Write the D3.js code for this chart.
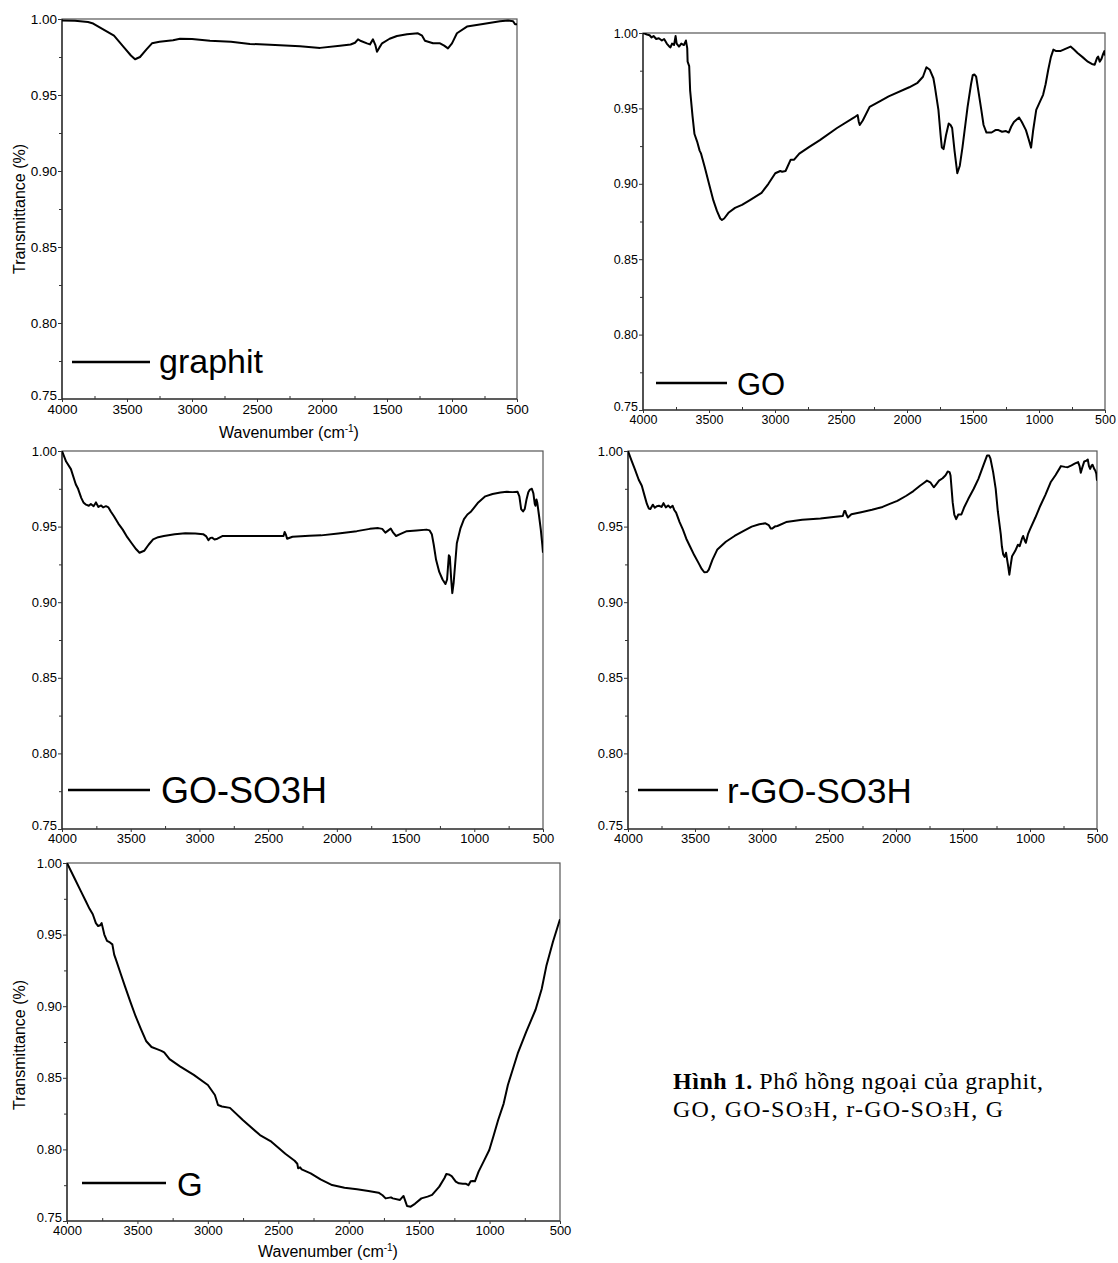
<!DOCTYPE html>
<html><head><meta charset="utf-8">
<script src="https://cdn.jsdelivr.net/npm/d3@7"></script>
<style>
body{margin:0;background:#fff}
svg{display:block}
text{font-family:Arial,"Liberation Sans",sans-serif;fill:#000}
</style>
</head><body>
<svg id="c" width="1118" height="1263"></svg>
<script>
// ---------- DATA ----------
const xTicks = [4000,3500,3000,2500,2000,1500,1000,500];
const xMinor = [3750,3250,2750,2250,1750,1250,750];
const yTicks = [0.75,0.80,0.85,0.90,0.95,1.00];
const yMinor = [0.775,0.825,0.875,0.925,0.975];
const seriesNames = ["graphit","GO","GO-SO3H","r-GO-SO3H","G"];

const graphit = [[4000,0.999],[3900,0.9988],[3800,0.998],[3760,0.997],[3700,0.994],[3600,0.989],[3520,0.981],[3470,0.976],[3438,0.9735],[3400,0.975],[3350,0.980],[3308,0.984],[3250,0.985],[3146,0.986],[3092,0.987],[3000,0.9868],[2862,0.9857],[2700,0.985],[2554,0.9836],[2400,0.983],[2169,0.982],[2015,0.981],[1862,0.9824],[1780,0.9832],[1746,0.9844],[1723,0.9866],[1700,0.9855],[1654,0.984],[1631,0.9833],[1608,0.9866],[1590,0.983],[1577,0.9785],[1560,0.981],[1538,0.984],[1480,0.987],[1423,0.9888],[1346,0.990],[1262,0.9906],[1230,0.989],[1208,0.9857],[1146,0.984],[1092,0.984],[1060,0.9825],[1031,0.9807],[1000,0.984],[962,0.9906],[885,0.995],[762,0.9967],[631,0.9985],[569,0.999],[530,0.9985],[515,0.9965],[500,0.9966]];

const go = [[4000,1.000],[3970,0.999],[3950,0.9985],[3935,0.997],[3920,0.998],[3900,0.996],[3880,0.9965],[3857,0.995],[3840,0.996],[3820,0.993],[3800,0.991],[3792,0.9905],[3780,0.993],[3765,0.992],[3753,0.998],[3745,0.993],[3727,0.991],[3710,0.993],[3690,0.992],[3675,0.995],[3665,0.990],[3662,0.981],[3650,0.978],[3643,0.962],[3625,0.945],[3610,0.933],[3590,0.928],[3571,0.922],[3560,0.920],[3532,0.911],[3500,0.900],[3467,0.889],[3440,0.882],[3415,0.877],[3402,0.876],[3385,0.877],[3350,0.881],[3303,0.884],[3250,0.886],[3193,0.889],[3102,0.894],[3050,0.900],[2998,0.907],[2960,0.9085],[2946,0.908],[2920,0.9085],[2881,0.916],[2855,0.916],[2816,0.920],[2740,0.9245],[2660,0.929],[2530,0.937],[2400,0.944],[2374,0.9456],[2365,0.941],[2358,0.939],[2335,0.942],[2283,0.951],[2200,0.955],[2139,0.958],[1983,0.964],[1920,0.967],[1879,0.971],[1853,0.9773],[1827,0.9756],[1800,0.970],[1788,0.964],[1762,0.949],[1745,0.932],[1736,0.924],[1723,0.923],[1705,0.932],[1684,0.940],[1670,0.939],[1658,0.937],[1640,0.922],[1619,0.907],[1600,0.912],[1580,0.924],[1541,0.951],[1515,0.966],[1502,0.972],[1490,0.9725],[1476,0.971],[1460,0.962],[1437,0.949],[1420,0.939],[1398,0.934],[1359,0.934],[1330,0.9356],[1307,0.9356],[1280,0.9345],[1250,0.935],[1229,0.934],[1210,0.938],[1190,0.941],[1151,0.944],[1130,0.941],[1099,0.9356],[1080,0.930],[1060,0.924],[1045,0.935],[1021,0.949],[990,0.955],[969,0.959],[950,0.966],[930,0.9756],[910,0.984],[891,0.989],[870,0.988],[839,0.988],[800,0.9895],[761,0.991],[735,0.989],[708,0.9867],[670,0.984],[630,0.981],[600,0.9795],[578,0.979],[560,0.9835],[552,0.9844],[540,0.981],[526,0.983],[515,0.986],[505,0.988],[500,0.985]];

const goSO3H = [[4000,1.0],[3970,0.993],[3935,0.988],[3900,0.978],[3883,0.975],[3860,0.969],[3844,0.966],[3825,0.9645],[3805,0.9638],[3790,0.965],[3770,0.9635],[3753,0.966],[3735,0.963],[3715,0.964],[3701,0.9627],[3680,0.9635],[3662,0.9627],[3645,0.960],[3623,0.957],[3590,0.952],[3558,0.948],[3525,0.943],[3493,0.939],[3460,0.935],[3436,0.9327],[3402,0.934],[3370,0.938],[3337,0.9416],[3300,0.943],[3259,0.9438],[3180,0.945],[3103,0.9456],[3030,0.9455],[2973,0.945],[2950,0.9435],[2934,0.941],[2920,0.9425],[2908,0.9427],[2890,0.9415],[2869,0.942],[2830,0.9438],[2635,0.9438],[2450,0.9438],[2388,0.9438],[2380,0.9464],[2370,0.9445],[2362,0.942],[2323,0.9433],[2200,0.944],[2115,0.9442],[1990,0.9455],[1855,0.947],[1760,0.9485],[1699,0.949],[1670,0.9485],[1647,0.946],[1625,0.9475],[1608,0.9487],[1590,0.946],[1569,0.9438],[1540,0.945],[1491,0.947],[1420,0.9475],[1348,0.948],[1325,0.9475],[1309,0.945],[1295,0.938],[1278,0.928],[1255,0.920],[1231,0.915],[1210,0.912],[1198,0.915],[1185,0.931],[1178,0.930],[1168,0.915],[1160,0.906],[1150,0.913],[1127,0.939],[1100,0.949],[1075,0.9549],[1050,0.958],[1023,0.960],[971,0.966],[920,0.970],[867,0.9716],[810,0.9725],[763,0.973],[720,0.9728],[685,0.973],[672,0.970],[659,0.9616],[645,0.960],[633,0.9616],[620,0.968],[607,0.9727],[595,0.9745],[581,0.975],[570,0.972],[560,0.965],[555,0.9638],[548,0.968],[542,0.966],[530,0.958],[516,0.948],[505,0.938],[500,0.9327]];

const rGoSO3H = [[4000,1.0],[3975,0.994],[3949,0.988],[3920,0.981],[3897,0.977],[3875,0.970],[3859,0.965],[3845,0.962],[3833,0.9616],[3815,0.9645],[3800,0.9625],[3785,0.9635],[3769,0.9638],[3750,0.963],[3735,0.9655],[3718,0.9627],[3700,0.964],[3685,0.9625],[3667,0.9638],[3655,0.961],[3641,0.9593],[3615,0.953],[3590,0.948],[3565,0.942],[3538,0.937],[3505,0.931],[3474,0.926],[3450,0.922],[3431,0.9198],[3410,0.920],[3397,0.9216],[3370,0.928],[3333,0.9349],[3270,0.940],[3205,0.9438],[3140,0.947],[3077,0.95],[3020,0.9515],[2974,0.9522],[2950,0.951],[2935,0.9487],[2923,0.9487],[2905,0.950],[2885,0.9504],[2820,0.953],[2700,0.9545],[2564,0.9553],[2450,0.9565],[2397,0.957],[2385,0.9604],[2379,0.9604],[2370,0.958],[2359,0.956],[2333,0.9582],[2260,0.9595],[2179,0.9611],[2100,0.963],[2051,0.9649],[1990,0.967],[1923,0.9704],[1870,0.9735],[1821,0.977],[1790,0.979],[1769,0.9804],[1744,0.9793],[1730,0.9775],[1718,0.976],[1700,0.978],[1679,0.9804],[1652,0.982],[1630,0.984],[1614,0.9864],[1600,0.986],[1593,0.9838],[1585,0.975],[1577,0.966],[1565,0.958],[1551,0.9549],[1535,0.958],[1512,0.958],[1490,0.963],[1461,0.9682],[1420,0.975],[1385,0.9816],[1350,0.990],[1320,0.9971],[1305,0.997],[1295,0.9949],[1275,0.986],[1256,0.9749],[1240,0.960],[1218,0.9449],[1210,0.937],[1200,0.9316],[1190,0.930],[1179,0.9327],[1165,0.925],[1154,0.9182],[1145,0.924],[1134,0.9304],[1110,0.934],[1090,0.938],[1077,0.9371],[1060,0.942],[1051,0.9438],[1040,0.941],[1031,0.9393],[1015,0.945],[1000,0.9482],[960,0.956],[923,0.9638],[885,0.971],[846,0.9793],[810,0.984],[769,0.99],[740,0.9895],[718,0.9893],[690,0.9905],[667,0.9916],[641,0.9927],[630,0.990],[621,0.9856],[610,0.989],[595,0.9931],[580,0.9935],[569,0.9944],[560,0.990],[551,0.9882],[540,0.9905],[533,0.9909],[520,0.988],[513,0.9871],[505,0.985],[500,0.9804]];

const gSeries = [[4000,1.0],[3944,0.9888],[3900,0.980],[3868,0.9736],[3840,0.968],[3817,0.9642],[3795,0.958],[3779,0.956],[3765,0.9565],[3754,0.958],[3735,0.950],[3716,0.9456],[3695,0.9445],[3678,0.9432],[3665,0.936],[3653,0.9327],[3620,0.923],[3589,0.914],[3550,0.903],[3513,0.893],[3475,0.884],[3437,0.8755],[3400,0.8715],[3361,0.870],[3330,0.8688],[3310,0.8678],[3272,0.863],[3198,0.858],[3100,0.852],[3000,0.845],[2950,0.838],[2928,0.831],[2900,0.830],[2843,0.829],[2752,0.8205],[2630,0.810],[2549,0.8054],[2450,0.797],[2384,0.7921],[2365,0.790],[2359,0.7868],[2345,0.7875],[2334,0.7861],[2270,0.7833],[2200,0.779],[2118,0.7751],[2030,0.7732],[1941,0.7721],[1860,0.771],[1788,0.7698],[1760,0.768],[1738,0.7658],[1700,0.7665],[1687,0.7658],[1636,0.7647],[1611,0.7675],[1595,0.763],[1586,0.7605],[1560,0.760],[1530,0.762],[1484,0.7658],[1440,0.767],[1408,0.7682],[1357,0.7740],[1320,0.780],[1307,0.7828],[1290,0.7825],[1269,0.7814],[1240,0.7775],[1218,0.7763],[1190,0.776],[1167,0.776],[1150,0.775],[1134,0.7777],[1118,0.778],[1104,0.7777],[1078,0.7845],[1040,0.792],[1002,0.7996],[970,0.810],[939,0.8205],[900,0.832],[870,0.845],[835,0.856],[800,0.867],[740,0.882],[673,0.8977],[630,0.912],[597,0.928],[550,0.945],[500,0.9607]];

const allSeries = [graphit, go, goSO3H, rGoSO3H, gSeries];

// ---------- LAYOUT ----------
const panels = [
  {x0:62, x1:517, y0:19, y1:399, fs:13.5, leg:{lx0:72, lx1:150, ly:362, tx:159, ty:373, fs:34}, yTitle:[19,209], xTitle:[289,438]},
  {x0:643, x1:1105, y0:33, y1:410, fs:12.5, leg:{lx0:656, lx1:727, ly:383, tx:737, ty:395, fs:31}},
  {x0:62, x1:543, y0:451, y1:829, fs:13, leg:{lx0:68, lx1:150, ly:790, tx:161, ty:803, fs:36}},
  {x0:628, x1:1097, y0:451, y1:829, fs:13, leg:{lx0:638, lx1:718, ly:790, tx:727, ty:803, fs:35}},
  {x0:67, x1:560, y0:863, y1:1221, fs:13, leg:{lx0:82, lx1:166, ly:1183, tx:177, ty:1196, fs:33}, yTitle:[19,1045], xTitle:[328,1257]}
];

const svg = d3.select("#c");

panels.forEach((p, i) => {
  const data = allSeries[i];
  const x = d3.scaleLinear().domain([4000,500]).range([p.x0,p.x1]);
  const y = d3.scaleLinear().domain([0.75,1.0]).range([p.y1,p.y0]);
  const g = svg.append("g");

  const cid = "clip" + i;
  g.append("clipPath").attr("id", cid).append("rect")
    .attr("x", p.x0).attr("y", p.y0).attr("width", p.x1-p.x0).attr("height", p.y1-p.y0);

  // x axis major
  const xa = g.append("g").attr("transform", `translate(0,${p.y1})`)
    .call(d3.axisBottom(x).tickValues(xTicks).tickSize(3).tickPadding(2).tickFormat(d3.format("d")));
  xa.select(".domain").remove();
  xa.selectAll("text").style("font-size", p.fs+"px").attr("font-family","Arial, Liberation Sans, sans-serif");
  xa.selectAll("line").attr("stroke","#333");
  // x minor (inward)
  const xm = g.append("g").attr("transform", `translate(0,${p.y1})`)
    .call(d3.axisBottom(x).tickValues(xMinor).tickSize(-3).tickFormat(""));
  xm.select(".domain").remove();
  xm.selectAll("line").attr("stroke","#333");

  // y axis major
  const ya = g.append("g").attr("transform", `translate(${p.x0},0)`)
    .call(d3.axisLeft(y).tickValues(yTicks).tickSize(4).tickPadding(1).tickFormat(d3.format(".2f")));
  ya.select(".domain").remove();
  ya.selectAll("text").style("font-size", p.fs+"px").attr("font-family","Arial, Liberation Sans, sans-serif");
  ya.selectAll("text").filter(d => d === 0.75).attr("dy","0.05em");
  ya.selectAll("line").attr("stroke","#333");
  const ym = g.append("g").attr("transform", `translate(${p.x0},0)`)
    .call(d3.axisLeft(y).tickValues(yMinor).tickSize(3).tickFormat(""));
  ym.select(".domain").remove();
  ym.selectAll("line").attr("stroke","#333");

  // frame
  g.append("rect").attr("x", p.x0).attr("y", p.y0)
    .attr("width", p.x1-p.x0).attr("height", p.y1-p.y0)
    .attr("fill","none").attr("stroke","#555").attr("stroke-width",1.2);
  g.append("line").attr("x1",p.x0).attr("x2",p.x0).attr("y1",p.y0).attr("y2",p.y1).attr("stroke","#222").attr("stroke-width",1.2);
  g.append("line").attr("x1",p.x0).attr("x2",p.x1).attr("y1",p.y1).attr("y2",p.y1).attr("stroke","#222").attr("stroke-width",1.2);

  // spectrum
  const line = d3.line().x(d => x(d[0])).y(d => y(d[1]));
  g.append("path").datum(data).attr("clip-path", `url(#${cid})`)
    .attr("d", line).attr("fill","none").attr("stroke","#000")
    .attr("stroke-width",2).attr("stroke-linejoin","round");

  // legend
  const L = p.leg;
  g.append("line").attr("x1",L.lx0).attr("x2",L.lx1).attr("y1",L.ly).attr("y2",L.ly)
    .attr("stroke","#000").attr("stroke-width",2.5);
  g.append("text").attr("x",L.tx).attr("y",L.ty).style("font-size",L.fs+"px").text(seriesNames[i]);

  // titles
  if (p.yTitle) {
    g.append("text").attr("transform", `translate(${p.yTitle[0]},${p.yTitle[1]}) rotate(-90)`)
      .attr("text-anchor","middle").attr("dy","0.35em").style("font-size","16px").text("Transmittance (%)");
  }
  if (p.xTitle) {
    const t = g.append("text").attr("x", p.xTitle[0]).attr("y", p.xTitle[1])
      .attr("text-anchor","middle").style("font-size","16px");
    t.append("tspan").text("Wavenumber (cm");
    t.append("tspan").attr("dy",-6).style("font-size","10px").text("-1");
    t.append("tspan").attr("dy",6).text(")");
  }
});

// caption
const serif = "'Liberation Serif','Times New Roman',serif";
const cap = svg.append("text").attr("x",673).attr("y",1089)
  .attr("textLength",370).attr("lengthAdjust","spacing")
  .style("font-family",serif).style("font-size","24px");
cap.append("tspan").style("font-weight","bold").text("Hình 1.");
cap.append("tspan").text(" Phổ hồng ngoại của graphit,");
const cap2 = svg.append("text").attr("x",673).attr("y",1117)
  .attr("textLength",330).attr("lengthAdjust","spacing")
  .style("font-family",serif).style("font-size","24px");
cap2.append("tspan").text("GO, GO-SO");
cap2.append("tspan").style("font-size","15px").text("3");
cap2.append("tspan").text("H, r-GO-SO");
cap2.append("tspan").style("font-size","15px").text("3");
cap2.append("tspan").text("H, G");
</script>
</body></html>
